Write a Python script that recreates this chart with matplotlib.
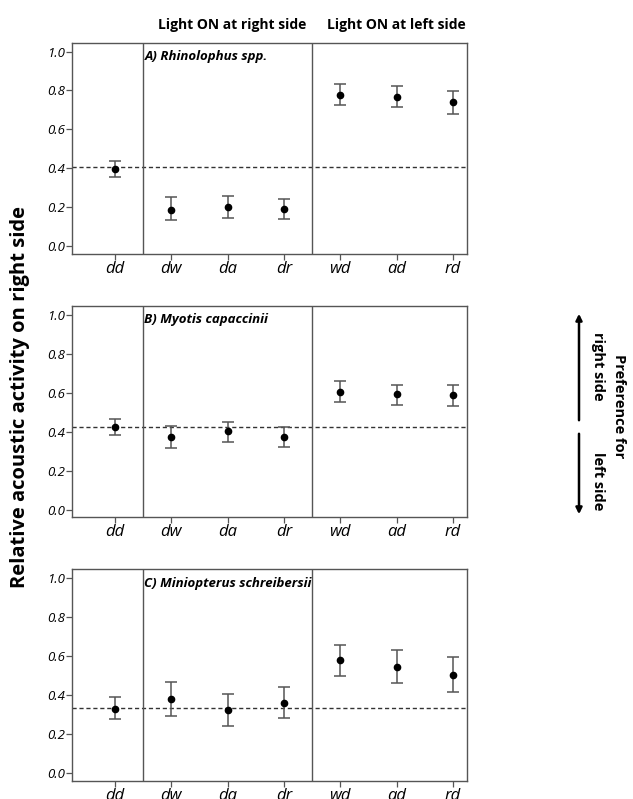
import numpy as np
import matplotlib.pyplot as plt

plt.rcParams['font.family'] = ['Open Sans', 'DejaVu Sans']

# treatments on the x axis
cats = ['dd', 'dw', 'da', 'dr', 'wd', 'ad', 'rd']

# mean and CI bounds for each species
rhino_mean = [0.398, 0.188, 0.203, 0.190, 0.778, 0.769, 0.740]
rhino_lo = [0.357, 0.135, 0.147, 0.138, 0.725, 0.713, 0.679]
rhino_hi = [0.436, 0.251, 0.260, 0.244, 0.834, 0.824, 0.798]
rhino_ref = 0.405

myotis_mean = [0.424, 0.373, 0.402, 0.373, 0.602, 0.593, 0.588]
myotis_lo = [0.383, 0.316, 0.344, 0.321, 0.550, 0.537, 0.532]
myotis_hi = [0.462, 0.429, 0.451, 0.424, 0.658, 0.641, 0.641]
myotis_ref = 0.421

minio_mean = [0.330, 0.378, 0.324, 0.361, 0.579, 0.545, 0.504]
minio_lo = [0.279, 0.291, 0.240, 0.281, 0.499, 0.463, 0.416]
minio_hi = [0.388, 0.467, 0.407, 0.441, 0.658, 0.630, 0.593]
minio_ref = 0.332

titles = ['A) Rhinolophus spp.', 'B) Myotis capaccinii', 'C) Miniopterus schreibersii']
yticks = [0.0, 0.2, 0.4, 0.6, 0.8, 1.0]

panels = [
    (rhino_mean, rhino_lo, rhino_hi, rhino_ref),
    (myotis_mean, myotis_lo, myotis_hi, myotis_ref),
    (minio_mean, minio_lo, minio_hi, minio_ref),
]

W, H = 633, 799
fig = plt.figure(figsize=(W / 100, H / 100), dpi=100)

# axes boxes in pixels: (top, bottom)
boxes = [(43, 254), (306, 517.3), (569.3, 781)]
left_px, right_px = 72, 467
frame_col = '#555555'

x = np.arange(len(cats))
for (top, bot), title, (m, lo, hi, ref) in zip(boxes, titles, panels):
    ax = fig.add_axes([left_px / W, (H - bot) / H, (right_px - left_px) / W, (bot - top) / H])
    m = np.array(m)
    err = [m - np.array(lo), np.array(hi) - m]
    ax.errorbar(x, m, yerr=err, fmt='o', color='black', ms=4.5,
                ecolor='#555555', elinewidth=1.1, capsize=4, capthick=1.1, zorder=3)
    ax.axhline(ref, color='#333333', ls=(0, (3, 2)), lw=1)
    ax.axvline(0.5, color=frame_col, lw=1)
    ax.axvline(3.5, color=frame_col, lw=1)
    ax.set_xlim(-0.76, 6.25)
    ax.set_ylim(-0.04, 1.044)
    ax.set_xticks(x)
    ax.set_xticklabels(cats, fontsize=12, style='italic')
    ax.set_yticks(yticks)
    ax.set_yticklabels([f'{v:.1f}' for v in yticks], fontsize=9.5, style='italic')
    ax.tick_params(axis='both', direction='out', length=4, width=0.9, color=frame_col, pad=1)
    for s in ax.spines.values():
        s.set_color(frame_col)
        s.set_linewidth(1)
    ax.text(0.525, 0.965, title, transform=ax.get_xaxis_transform(),
            fontsize=9.5, fontweight='bold', style='italic', va='top', ha='left')

# headers
fig.text(232 / W, 1 - 25 / H, 'Light ON at right side', ha='center', va='center',
         fontsize=10, fontweight='bold')
fig.text(396 / W, 1 - 25 / H, 'Light ON at left side', ha='center', va='center',
         fontsize=10, fontweight='bold')

# y label
fig.text(20 / W, 1 - 397 / H, 'Relative acoustic activity on right side', rotation=90,
         ha='center', va='center', fontsize=14.5, fontweight='bold')

# preference arrows for panel B
ax_r = fig.add_axes([0, 0, 1, 1], facecolor='none')
ax_r.set_xlim(0, W)
ax_r.set_ylim(H, 0)
ax_r.axis('off')
ax_r.annotate('', xy=(579, 311), xytext=(579, 423),
              arrowprops=dict(arrowstyle='-|>', color='black', lw=1.8, mutation_scale=9))
ax_r.annotate('', xy=(579, 517), xytext=(579, 431),
              arrowprops=dict(arrowstyle='-|>', color='black', lw=1.8, mutation_scale=9))
ax_r.text(619, 406, 'Preference for', rotation=-90, ha='center', va='center',
          fontsize=10.5, fontweight='bold')
ax_r.text(598, 366, 'right side', rotation=-90, ha='center', va='center',
          fontsize=10.5, fontweight='bold')
ax_r.text(598, 481, 'left side', rotation=-90, ha='center', va='center',
          fontsize=10.5, fontweight='bold')

fig.savefig('out.png', dpi=100)
